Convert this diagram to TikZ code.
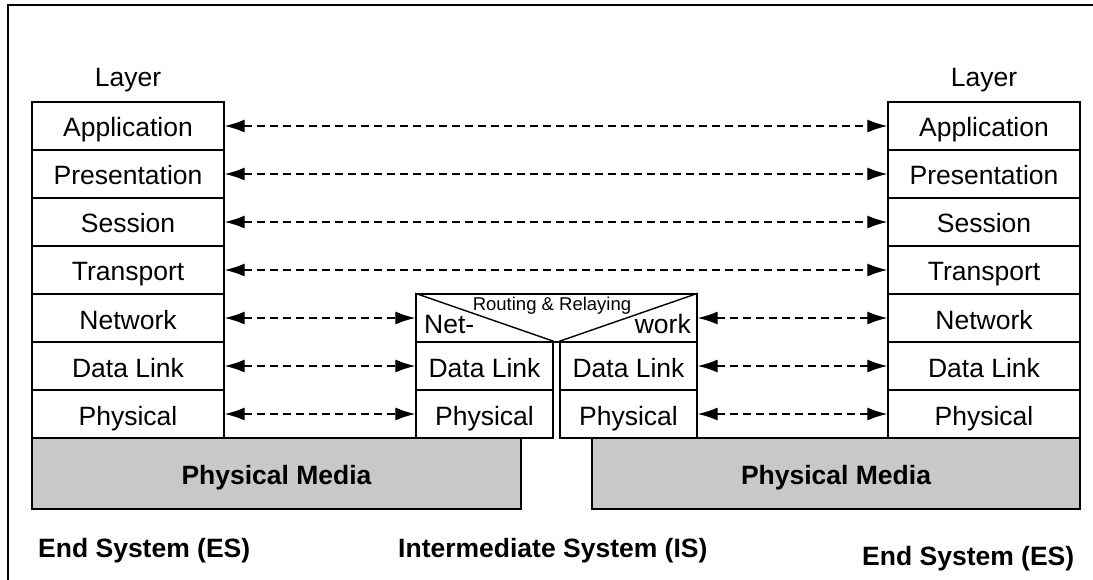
\documentclass[tikz,border=0pt]{standalone}
\usepackage{fontspec}
\setmainfont{Liberation Sans}
\usetikzlibrary{arrows.meta}
\definecolor{media}{RGB}{200,200,200}
\begin{document}
\begin{tikzpicture}[x=1pt,y=-1pt,
  big/.style={font=\fontsize{26.5}{26.5}\selectfont},
  layerbox/.style={draw,line width=1.4pt,rectangle,minimum width=192pt,minimum height=48pt,inner sep=0pt,big,text height=22pt,text depth=0pt},
  midbox/.style={layerbox,minimum width=137pt},
  mediabox/.style={draw,line width=1.4pt,fill=media,rectangle,minimum height=71pt,inner sep=0pt,font=\fontsize{26.5}{26.5}\selectfont\bfseries,text height=22pt,text depth=0pt},
  lbl/.style={inner sep=0pt,anchor=base,big},
  blbl/.style={inner sep=0pt,anchor=base west,font=\fontsize{26.5}{26.5}\selectfont\bfseries},
  arr/.style={{Latex[length=20pt,width=13pt]}-{Latex[length=20pt,width=13pt]},line width=1.3pt,dash pattern=on 8pt off 5pt},
]
\useasboundingbox (0,0) rectangle (1093,580);
% frame (only top and left edges visible)
\draw[line width=1.4pt] (8,580) -- (8,5) -- (1093,5);

% physical media
\node[mediabox,minimum width=489pt] (lpm) at (276.5,473.5) {Physical Media};
\node[mediabox,minimum width=488pt] (rpm) at (836,473.5) {Physical Media};

% left stack
\node[lbl] (llayer) at (128,87) {Layer};
\node[layerbox] (lapp) at (128,126) {Application};
\node[layerbox] (lpre) at (128,174) {Presentation};
\node[layerbox] (lses) at (128,222) {Session};
\node[layerbox] (ltra) at (128,270) {Transport};
\node[layerbox] (lnet) at (128,318) {Network};
\node[layerbox] (ldl)  at (128,366) {Data Link};
\node[layerbox] (lphy) at (128,414) {Physical};

% right stack
\node[lbl] (rlayer) at (984,87) {Layer};
\node[layerbox] (rapp) at (984,126) {Application};
\node[layerbox] (rpre) at (984,174) {Presentation};
\node[layerbox] (rses) at (984,222) {Session};
\node[layerbox] (rtra) at (984,270) {Transport};
\node[layerbox] (rnet) at (984,318) {Network};
\node[layerbox] (rdl)  at (984,366) {Data Link};
\node[layerbox] (rphy) at (984,414) {Physical};

% intermediate system
\node[midbox] (mdl) at (484.5,366) {Data Link};
\node[midbox] (mdr) at (628.5,366) {Data Link};
\node[midbox] (mpl) at (484.5,414) {Physical};
\node[midbox] (mpr) at (628.5,414) {Physical};
\node[draw,line width=1.4pt,rectangle,minimum width=281pt,minimum height=48pt,inner sep=0pt] (mnet) at (556.5,318) {};
\draw[line width=1.4pt] (mnet.north west) -- (mdl.north east);
\draw[line width=1.4pt] (mdr.north west) -- (mnet.north east);
\node[inner sep=0pt,anchor=base,font=\fontsize{18.5}{18.5}\selectfont] (rr) at (552,310) {Routing \& Relaying};
\node[inner sep=0pt,anchor=base west,big] (netl) at (424,334) {Net-};
\node[inner sep=0pt,anchor=base east,big] (netr) at (691,334) {work};

% peer arrows
\draw[arr] (lapp.east) -- (rapp.west);
\draw[arr] (lpre.east) -- (rpre.west);
\draw[arr] (lses.east) -- (rses.west);
\draw[arr] (ltra.east) -- (rtra.west);
\draw[arr] (lnet.east) -- (mnet.west);
\draw[arr] (mnet.east) -- (rnet.west);
\draw[arr] (ldl.east) -- (mdl.west);
\draw[arr] (mdr.east) -- (rdl.west);
\draw[arr] (lphy.east) -- (mpl.west);
\draw[arr] (mpr.east) -- (rphy.west);

% system labels
\node[blbl] (les) at (38,557) {End System (ES)};
\node[blbl] (is) at (398,557) {Intermediate System (IS)};
\node[blbl] (res) at (862,565) {End System (ES)};
\end{tikzpicture}
\end{document}
